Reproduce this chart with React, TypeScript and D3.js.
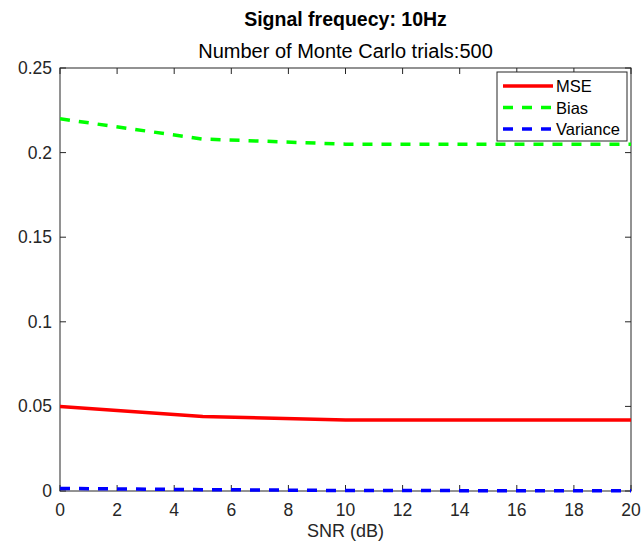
import React from "react";
import * as d3 from "d3";

const snr = [0, 5, 10, 15, 20];
const mse = [0.05, 0.044, 0.042, 0.042, 0.042];
const bias = [0.22, 0.208, 0.205, 0.205, 0.205];
const variance = [0.0015, 0.0008, 0.0003, 0.0002, 0.0002];
const xTicks = [0, 2, 4, 6, 8, 10, 12, 14, 16, 18, 20];
const yTicks = [0, 0.05, 0.1, 0.15, 0.2, 0.25];
const seriesNames = ["MSE", "Bias", "Variance"];

const W = 642, H = 546;
const L = 60, R = 631, T = 68, B = 491;

export default function App() {
  const x = d3.scaleLinear().domain([0, 20]).range([L, R]);
  const y = d3.scaleLinear().domain([0, 0.25]).range([B, T]);
  const line = d3.line<number>().x((_, i) => x(snr[i])).y((d) => y(d));
  const series = [
    { name: seriesNames[0], data: mse, color: "#ff0000", dash: "none" },
    { name: seriesNames[1], data: bias, color: "#00ff00", dash: "10,9" },
    { name: seriesNames[2], data: variance, color: "#0000ff", dash: "10,9" },
  ];
  const font = "'Liberation Sans', Arial, Helvetica, sans-serif";
  const ax = "#262626";
  return (
    <svg width={W} height={H} style={{ position: "absolute", left: 0, top: 0, background: "#fff" }} fontFamily={font}>
      <rect x={0} y={0} width={W} height={H} fill="#fff" />
      <defs>
        <clipPath id="clip"><rect x={L} y={T - 2} width={R - L + 2} height={B - T + 4} /></clipPath>
      </defs>
      <text x={(L + R) / 2} y={26} textAnchor="middle" fontSize={19.5} fontWeight="bold" fill="#000">Signal frequecy: 10Hz</text>
      <text x={(L + R) / 2} y={58} textAnchor="middle" fontSize={20} fill="#000">Number of Monte Carlo trials:500</text>
      <rect x={L} y={T} width={R - L} height={B - T} fill="none" stroke={ax} strokeWidth={1} />
      {xTicks.map((t) => (
        <g key={"x" + t}>
          <line x1={x(t)} x2={x(t)} y1={B} y2={B - 6} stroke={ax} />
          <line x1={x(t)} x2={x(t)} y1={T} y2={T + 6} stroke={ax} />
          <text x={x(t)} y={B + 25} textAnchor="middle" fontSize={17.5} fill={ax}>{t}</text>
        </g>
      ))}
      {yTicks.map((t) => (
        <g key={"y" + t}>
          <line x1={L} x2={L + 6} y1={y(t)} y2={y(t)} stroke={ax} />
          <line x1={R} x2={R - 6} y1={y(t)} y2={y(t)} stroke={ax} />
          <text x={L - 8} y={y(t) + 6} textAnchor="end" fontSize={17.5} fill={ax}>{String(t)}</text>
        </g>
      ))}
      <text x={(L + R) / 2} y={537} textAnchor="middle" fontSize={18} fill={ax}>SNR (dB)</text>
      <g clipPath="url(#clip)">
        {series.map((s) => (
          <path key={s.name} d={line(s.data) || ""} fill="none" stroke={s.color} strokeWidth={3.5} strokeDasharray={s.dash} />
        ))}
      </g>
      <rect x={497} y={72} width={130} height={69} fill="#fff" stroke={ax} strokeWidth={1} />
      {series.map((s, i) => (
        <g key={"l" + s.name}>
          <line x1={503} x2={553} y1={86 + i * 21.5} y2={86 + i * 21.5} stroke={s.color} strokeWidth={3.5} strokeDasharray={s.dash} />
          <text x={556} y={86 + i * 21.5 + 6} fontSize={16.5} fill="#000">{s.name}</text>
        </g>
      ))}
    </svg>
  );
}
